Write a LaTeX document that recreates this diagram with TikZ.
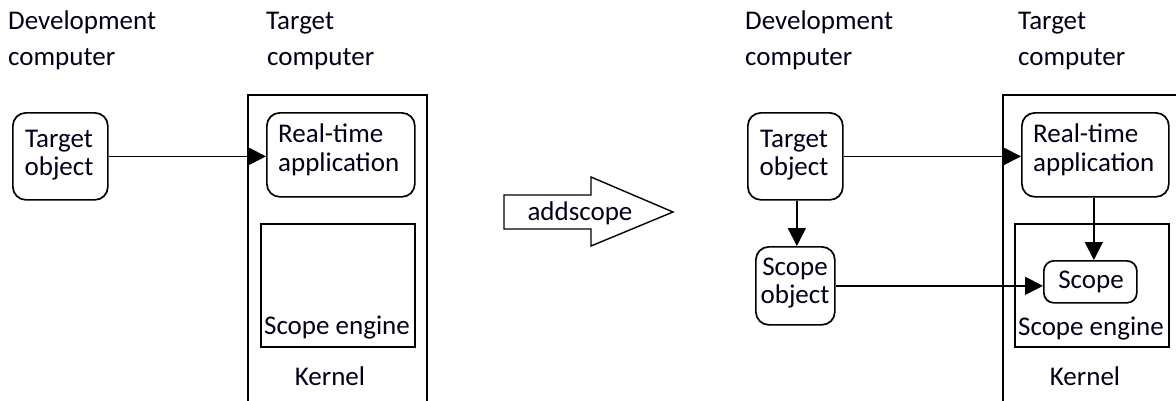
\documentclass[tikz,border=0pt]{standalone}
\usepackage{fontspec}
\setmainfont{Carlito}
\usetikzlibrary{arrows.meta}
\begin{document}
\begin{tikzpicture}[x=1pt,y=-1pt,
  txt/.style={inner sep=0pt,font=\fontsize{27}{30}\selectfont,text=black!90!blue},
  rbox/.style={draw,line width=1.7pt,rounded corners=13pt,inner sep=0pt,anchor=north west},
  sbox/.style={draw,line width=1.7pt,inner sep=0pt,anchor=north west},
  conn/.style={line width=1.7pt,-{Triangle[length=18pt,width=18pt]}}]
\useasboundingbox (0,0) rectangle (1176,400);
\clip (0,0) rectangle (1176,400);
% ---------- left panel ----------
\node[txt,anchor=base west] (devL1) at (8,29) {Development};
\node[txt,anchor=base west] (devL2) at (8,65) {computer};
\node[txt,anchor=base west] (tgtL1) at (266,29) {Target};
\node[txt,anchor=base west] (tgtL2) at (267,65) {computer};
\node[sbox,minimum width=179pt,minimum height=320pt] (kernL) at (247,94) {};
\node[rbox,minimum width=95pt,minimum height=87pt] (tobjL) at (12,112) {};
\node[txt,anchor=base] at (59,147) {Target};
\node[txt,anchor=base] at (59,175) {object};
\node[rbox,minimum width=148pt,minimum height=84pt] (appL) at (266,112) {};
\node[txt,anchor=base west] at (278,142) {Real-time};
\node[txt,anchor=base west] at (278,171) {application};
\node[sbox,minimum width=154pt,minimum height=123pt] (engL) at (260,223) {};
\node[txt,anchor=base] at (337,334) {Scope engine};
\node[txt,anchor=base] at (330,385) {Kernel};
\draw[conn] (tobjL.east) -- (tobjL.east -| appL.west);
% ---------- addscope arrow ----------
\draw[line width=1.4pt] (504,195) -- (591,195) -- (591,177) -- (673,212) -- (591,246) -- (591,229) -- (504,229) -- cycle;
\node[txt,anchor=base] (add) at (580,220) {addscope};
% ---------- right panel ----------
\node[txt,anchor=base west] (devR1) at (745,29) {Development};
\node[txt,anchor=base west] (devR2) at (745,65) {computer};
\node[txt,anchor=base west] (tgtR1) at (1018,29) {Target};
\node[txt,anchor=base west] (tgtR2) at (1018,65) {computer};
\node[sbox,minimum width=190pt,minimum height=320pt] (kernR) at (1002,94) {};
\node[rbox,minimum width=95pt,minimum height=87pt] (tobjR) at (747,112) {};
\node[txt,anchor=base] at (794,147) {Target};
\node[txt,anchor=base] at (794,175) {object};
\node[rbox,minimum width=79pt,minimum height=78pt] (sobjR) at (755,246) {};
\node[txt,anchor=base] at (795,275) {Scope};
\node[txt,anchor=base] at (795,303) {object};
\node[rbox,minimum width=147pt,minimum height=84pt] (appR) at (1021,112) {};
\node[txt,anchor=base west] at (1033,142) {Real-time};
\node[txt,anchor=base west] at (1033,171) {application};
\node[sbox,minimum width=154pt,minimum height=123pt] (engR) at (1014,223) {};
\node[rbox,rounded corners=10pt,minimum width=93pt,minimum height=42pt] (scopeR) at (1043,260) {};
\node[txt,anchor=base] at (1091,288) {Scope};
\node[txt,anchor=base] at (1091,335) {Scope engine};
\node[txt,anchor=base] at (1085,385) {Kernel};
\draw[conn] (tobjR.east) -- (tobjR.east -| appR.west);
\draw[conn] ([xshift=1.5pt]tobjR.south) -- ([xshift=1.5pt]tobjR.south |- sobjR.north);
\draw[conn] (sobjR.east) -- (sobjR.east -| scopeR.west);
\draw[conn] ([xshift=-1.5pt]appR.south) -- ([xshift=-1.5pt]appR.south |- scopeR.north);
\end{tikzpicture}
\end{document}
